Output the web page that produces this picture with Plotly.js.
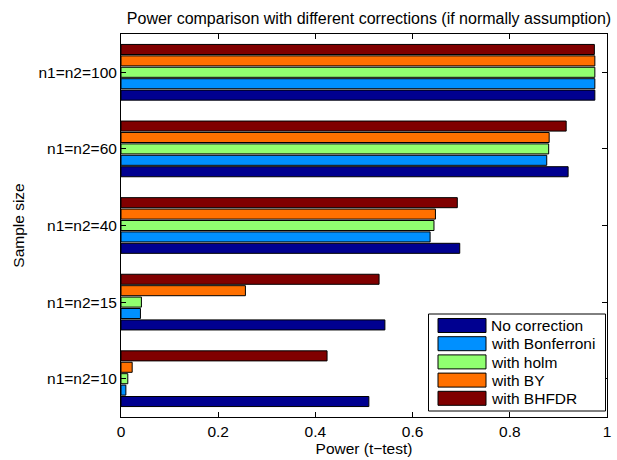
<!DOCTYPE html>
<html>
<head>
<meta charset="utf-8">
<script src="https://cdn.plot.ly/plotly-3.0.1.min.js"></script>
<style>html,body{margin:0;padding:0;background:#fff}#chart{width:617px;height:460px}</style>
</head>
<body>
<div id="chart"></div>
<script>
var categories = ['n1=n2=10', 'n1=n2=15', 'n1=n2=40', 'n1=n2=60', 'n1=n2=100'];
var seriesNames = ['No correction', 'with Bonferroni', 'with holm', 'with BY', 'with BHFDR'];
var seriesColors = ['#000090', '#0090FF', '#90FF70', '#FF7000', '#800000'];
var noCorrection = [0.510, 0.543, 0.697, 0.920, 0.975];
var withBonferroni = [0.010, 0.040, 0.636, 0.876, 0.975];
var withHolm = [0.014, 0.042, 0.644, 0.880, 0.975];
var withBY = [0.023, 0.256, 0.647, 0.881, 0.975];
var withBHFDR = [0.424, 0.531, 0.692, 0.916, 0.974];
var xTicks = [0, 0.2, 0.4, 0.6, 0.8, 1];
var xTickLabels = ['0', '0.2', '0.4', '0.6', '0.8', '1'];

var seriesValues = [noCorrection, withBonferroni, withHolm, withBY, withBHFDR];

var W = 617, H = 460;
var M = {l: 121, r: 10, t: 34, b: 43};
var pw = W - M.l - M.r, ph = H - M.t - M.b;
function px(x) { return (x - M.l) / pw; }
function py(y) { return (H - M.b - y) / ph; }

var FONT = 'Liberation Sans, Arial, Helvetica, sans-serif';
var FS = 15.5;

var traces = seriesValues.map(function (vals, i) {
  return {
    type: 'bar',
    orientation: 'h',
    name: seriesNames[i],
    y: categories,
    x: vals,
    marker: {color: seriesColors[i], line: {color: '#000', width: 1}},
    showlegend: false,
    hoverinfo: 'x+name'
  };
});

var shapes = [];
var annotations = [];
// legend box
shapes.push({type: 'rect', xref: 'paper', yref: 'paper',
  x0: px(428.5), x1: px(605.5), y0: py(411), y1: py(314),
  line: {color: '#000', width: 1}, fillcolor: '#fff', layer: 'above'});
seriesNames.forEach(function (name, i) {
  var top = 318.5 + i * 18.2;
  shapes.push({type: 'rect', xref: 'paper', yref: 'paper',
    x0: px(438), x1: px(486), y0: py(top + 14), y1: py(top),
    line: {color: '#000', width: 1}, fillcolor: seriesColors[i], layer: 'above'});
  annotations.push({xref: 'paper', yref: 'paper', x: px(489), y: py(top + 7.2),
    xanchor: 'left', yanchor: 'middle', showarrow: false, text: name,
    font: {family: FONT, size: FS, color: '#000'}});
});

var layout = {
  width: W, height: H,
  margin: M,
  paper_bgcolor: '#fff', plot_bgcolor: '#fff',
  font: {family: FONT, size: FS, color: '#000'},
  title: {text: 'Power comparison with different corrections (if normally assumption)',
    xref: 'paper', x: px(369), xanchor: 'center',
    yref: 'container', y: 1 - 18 / H, yanchor: 'middle',
    font: {family: FONT, size: 16, color: '#000'}},
  barmode: 'group',
  bargap: 0.255,
  bargroupgap: 0.12,
  xaxis: {
    range: [0, 1], tickvals: xTicks, ticktext: xTickLabels,
    ticks: 'inside', ticklen: 5, tickcolor: '#000', tickwidth: 1,
    showline: true, linecolor: '#000', linewidth: 1, mirror: 'ticks',
    showgrid: false, zeroline: false,
    title: {text: 'Power (t\u2212test)', standoff: 4, font: {family: FONT, size: FS, color: '#000'}},
    tickfont: {family: FONT, size: FS, color: '#000'}
  },
  yaxis: {
    type: 'category', categoryorder: 'array', categoryarray: categories,
    range: [-0.5, 4.5],
    ticks: 'inside', ticklen: 5, tickcolor: '#000', tickwidth: 1,
    showline: true, linecolor: '#000', linewidth: 1, mirror: 'ticks',
    showgrid: false, zeroline: false,
    title: {text: 'Sample size', standoff: 10, font: {family: FONT, size: FS, color: '#000'}},
    tickfont: {family: FONT, size: FS, color: '#000'}
  },
  shapes: shapes,
  annotations: annotations,
  showlegend: false
};

Plotly.newPlot('chart', traces, layout, {staticPlot: true, displayModeBar: false});
</script>
</body>
</html>
